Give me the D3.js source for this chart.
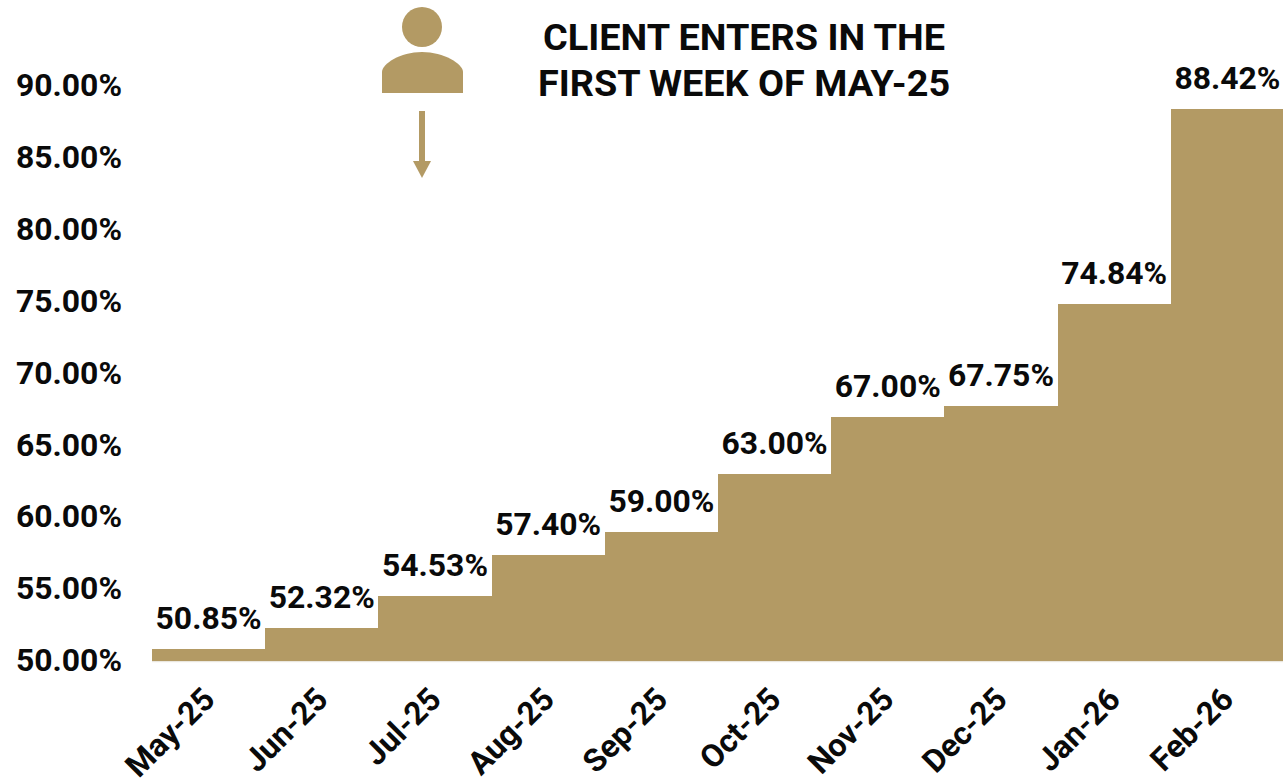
<!DOCTYPE html>
<html>
<head>
<meta charset="utf-8">
<script src="https://cdn.jsdelivr.net/npm/d3@7"></script>
<style>
  html, body { margin: 0; padding: 0; background: #fff; overflow: hidden; }
  text { font-family: Roboto, sans-serif; font-weight: 700; fill: #0a0a0a; }
</style>
</head>
<body>
<div id="chart"></div>
<script>
/* DATA */
const months = ["May-25","Jun-25","Jul-25","Aug-25","Sep-25","Oct-25","Nov-25","Dec-25","Jan-26","Feb-26"]
const rates = [50.85,52.32,54.53,57.40,59.00,63.00,67.00,67.75,74.84,88.42]
const yTicks = [50,55,60,65,70,75,80,85,90]
const titleLines = ["CLIENT ENTERS IN THE","FIRST WEEK OF MAY-25"]

/* CONSTANTS */
const width = 1283
const height = 783
const gold = "#b39a64"
const labelSize = "31.9px"

const svg = d3.select("#chart").append("svg")
  .attr("width", width)
  .attr("height", height)

// SCALES
const xScale = d3.scaleBand()
  .domain(months)
  .range([152, 1284])

const yScale = d3.scaleLinear()
  .domain([50, 90])
  .range([661.2, 86.3])

// BARS (no gaps, reads as a staircase)
svg.selectAll("rect.bar")
  .data(rates)
  .join("rect")
    .attr("class", "bar")
    .attr("x", (d, i) => xScale(months[i]))
    .attr("y", d => yScale(d))
    .attr("width", xScale.bandwidth() + 1)
    .attr("height", d => yScale(50) - yScale(d))
    .attr("fill", gold)
    .attr("shape-rendering", "crispEdges")

// baseline
svg.append("line")
  .attr("x1", 152).attr("x2", 1283)
  .attr("y1", yScale(50) + 0.5).attr("y2", yScale(50) + 0.5)
  .attr("stroke", "#e6e2d8")

// Y AXIS
const yAxis = d3.axisLeft(yScale)
  .tickValues(yTicks)
  .tickSize(0)
  .tickPadding(0)
  .tickFormat(d => d.toFixed(2) + "%")

svg.append("g")
  .attr("transform", "translate(122,-0.8)")
  .call(yAxis)
  .call(g => g.select(".domain").remove())
  .selectAll("text")
    .style("font-size", labelSize)

// X AXIS
const xAxis = d3.axisBottom(xScale).tickSize(0).tickPadding(0)

svg.append("g")
  .attr("transform", `translate(0,${yScale(50)})`)
  .call(xAxis)
  .call(g => g.select(".domain").remove())
  .selectAll("text")
    .attr("dy", null)
    .attr("y", null)
    .attr("text-anchor", "end")
    .attr("transform", "translate(8,40) rotate(-45)")
    .style("font-size", labelSize)

// VALUE LABELS
svg.selectAll("text.val")
  .data(rates)
  .join("text")
    .attr("class", "val")
    .attr("x", (d, i) => xScale(months[i]) + xScale.bandwidth() / 2)
    .attr("y", d => yScale(d) - 20)
    .attr("text-anchor", "middle")
    .style("font-size", labelSize)
    .text(d => d.toFixed(2) + "%")

// TITLE
svg.selectAll("text.title")
  .data(titleLines)
  .join("text")
    .attr("class", "title")
    .attr("x", 744)
    .attr("y", (d, i) => 50 + i * 46)
    .attr("text-anchor", "middle")
    .style("font-size", "37.8px")
    .text(d => d)

// person icon + arrow
const icon = svg.append("g").attr("fill", gold)
icon.append("circle").attr("cx", 422).attr("cy", 27).attr("r", 20)
icon.append("path").attr("d", "M382,93 V72 C382,64 400,52 422,52 C444,52 463,64 463,72 V93 Z")
icon.append("rect").attr("x", 419).attr("y", 111).attr("width", 6).attr("height", 51)
icon.append("path").attr("d", "M413,161 H431 L422,178 Z")
</script>
</body>
</html>
